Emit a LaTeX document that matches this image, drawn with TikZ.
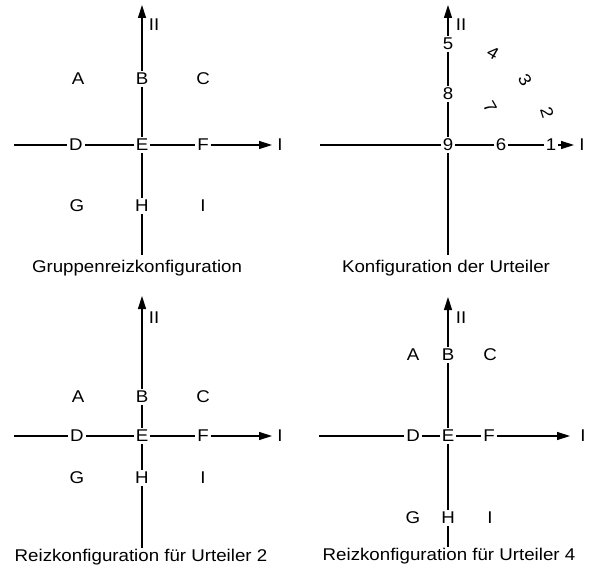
\documentclass[tikz,border=0pt]{standalone}
\usepackage{fontspec}
\setmainfont{Liberation Sans}[FakeStretch=1.1]
\usetikzlibrary{arrows.meta}
\begin{document}
\begin{tikzpicture}[x=1pt,y=-1pt,
  lab/.style={inner sep=1.8pt,font=\fontsize{17}{19}\selectfont},
  captext/.style={inner sep=0pt,font=\fontsize{17}{19}\selectfont},
  axis/.style={line width=1.4pt},
  arr/.style={axis,-{Triangle[length=13pt,width=8pt]}}]
\useasboundingbox (0,0) rectangle (589,575);
% ---------- top left ----------
\node[lab] (a1) at (78,79) {A};
\node[lab] (b1) at (142,79) {B};
\node[lab] (c1) at (203,79) {C};
\node[lab] (d1) at (76,145) {D};
\node[lab] (e1) at (142,145) {E};
\node[lab] (f1) at (203,145) {F};
\node[lab] (g1) at (77,206) {G};
\node[lab] (h1) at (142,206) {H};
\node[lab] (i1) at (203,206) {I};
\coordinate (top1) at (142,5);
\coordinate (left1) at (14,145);
\coordinate (tip1) at (272,145);
\coordinate (bot1) at (142,255);
\node[lab] (ii1) at (154,25) {II};
\node[lab] (ia1) at (280,145) {I};
\draw[arr] (b1) -- (top1);
\draw[axis] (b1) -- (e1) (e1) -- (h1) (h1) -- (bot1);
\draw[axis] (left1) -- (d1) (d1) -- (e1) (e1) -- (f1);
\draw[arr] (f1) -- (tip1);
\node[captext] (cap1) at (137,268) {Gruppenreizkonfiguration};
% ---------- top right ----------
\node[lab] (n5) at (448,44) {5};
\node[lab] (n8) at (448,94) {8};
\node[lab] (n9) at (448,145) {9};
\node[lab] (n6) at (501,145) {6};
\node[lab] (n1) at (551,145) {1};
\node[lab,rotate=-30] (n4) at (493,53) {4};
\node[lab,rotate=-60] (n3) at (525,80) {3};
\node[lab,rotate=-72] (n2) at (547,113) {2};
\node[lab,rotate=-60] (n7) at (490,107) {7};
\coordinate (top2) at (448,5);
\coordinate (left2) at (320,145);
\coordinate (tip2) at (574,145);
\coordinate (bot2) at (448,255);
\node[lab] (ii2) at (461,25) {II};
\node[lab] (ia2) at (582,145) {I};
\draw[arr] (n5) -- (top2);
\draw[axis] (n5) -- (n8) (n8) -- (n9) (n9) -- (bot2);
\draw[axis] (left2) -- (n9) (n9) -- (n6) (n6) -- (n1);
\draw[arr] (n1) -- (tip2);
\node[captext] (cap2) at (446,268) {Konfiguration der Urteiler};
% ---------- bottom left ----------
\node[lab] (a3) at (78,397) {A};
\node[lab] (b3) at (142,397) {B};
\node[lab] (c3) at (203,397) {C};
\node[lab] (d3) at (77,436) {D};
\node[lab] (e3) at (142,436) {E};
\node[lab] (f3) at (203,436) {F};
\node[lab] (g3) at (77,478) {G};
\node[lab] (h3) at (142,478) {H};
\node[lab] (i3) at (203,478) {I};
\coordinate (top3) at (142,296);
\coordinate (left3) at (14,436);
\coordinate (tip3) at (272,436);
\coordinate (bot3) at (142,548);
\node[lab] (ii3) at (154,318) {II};
\node[lab] (ia3) at (280,436) {I};
\draw[arr] (b3) -- (top3);
\draw[axis] (b3) -- (e3) (e3) -- (h3) (h3) -- (bot3);
\draw[axis] (left3) -- (d3) (d3) -- (e3) (e3) -- (f3);
\draw[arr] (f3) -- (tip3);
\node[captext] (cap3) at (141,557) {Reizkonfiguration für Urteiler 2};
% ---------- bottom right ----------
\node[lab] (a4) at (413,355) {A};
\node[lab] (b4) at (448,355) {B};
\node[lab] (c4) at (490,355) {C};
\node[lab] (d4) at (413,436) {D};
\node[lab] (e4) at (448,436) {E};
\node[lab] (f4) at (489,436) {F};
\node[lab] (g4) at (413,518) {G};
\node[lab] (h4) at (448,518) {H};
\node[lab] (i4) at (490,518) {I};
\coordinate (top4) at (448,297);
\coordinate (left4) at (319,436);
\coordinate (tip4) at (570,436);
\coordinate (bot4) at (448,547);
\node[lab] (ii4) at (461,318) {II};
\node[lab] (ia4) at (583,436) {I};
\draw[arr] (b4) -- (top4);
\draw[axis] (b4) -- (e4) (e4) -- (h4) (h4) -- (bot4);
\draw[axis] (left4) -- (d4) (d4) -- (e4) (e4) -- (f4);
\draw[arr] (f4) -- (tip4);
\node[captext] (cap4) at (449,556) {Reizkonfiguration für Urteiler 4};
\end{tikzpicture}
\end{document}
